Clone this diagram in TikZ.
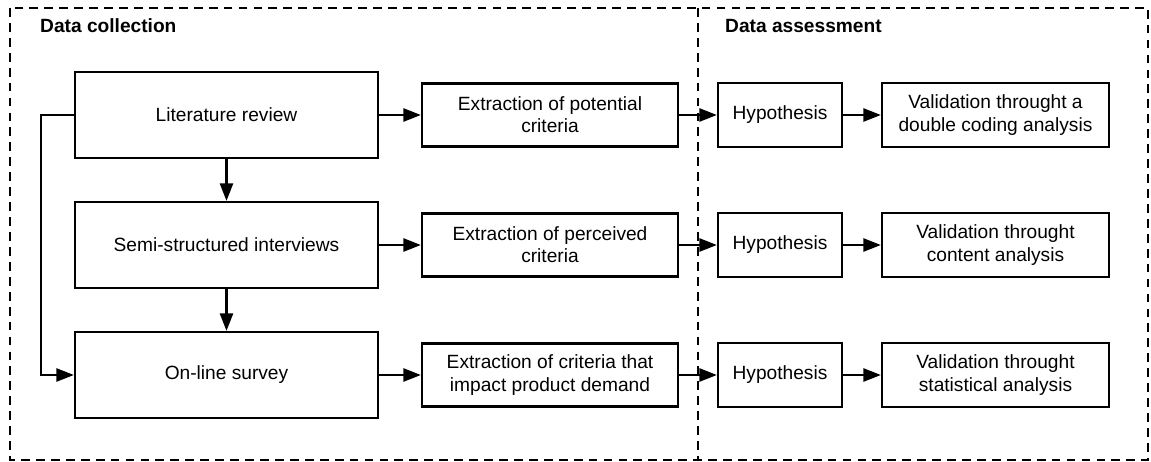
\documentclass[tikz,border=0pt]{standalone}
\usepackage{fontspec}
\setmainfont{Liberation Sans}
\usetikzlibrary{arrows.meta}

\begin{document}
\begin{tikzpicture}[
    box/.style={draw,line width=1.3pt,align=center,inner sep=2pt,
        font=\fontsize{10.9}{12.6}\selectfont},
    arr/.style={line width=1.3pt,-{Triangle[length=10pt,width=7.5pt]}},
    frame/.style={line width=1.2pt,dash pattern=on 5pt off 3.5pt},
    title/.style={anchor=west,font=\fontsize{10.9}{12.6}\selectfont\bfseries}
]
\useasboundingbox (0,0) rectangle (23.02,-9.24);

% frame and the two parts
\draw[frame] (0.2,-0.16) rectangle (22.96,-9.2);
\draw[frame] (13.96,-0.16)--(13.96,-9.2);
\node[title] (lcoll) at (0.68,-0.52) {Data collection};
\node[title] (lassess) at (14.38,-0.52) {Data assessment};

% data collection
\node[box,minimum width=6.06cm,minimum height=1.72cm] (lit) at (4.53,-2.30) {Literature review};
\node[box,minimum width=6.06cm,minimum height=1.72cm] (semi) at (4.53,-4.90) {Semi-structured interviews};
\node[box,minimum width=6.06cm,minimum height=1.72cm] (survey) at (4.53,-7.50) {On-line survey};

\node[box,minimum width=5.12cm,minimum height=1.26cm] (extlit) at (11.0,-2.30) {Extraction of potential\\criteria};
\node[box,minimum width=5.12cm,minimum height=1.26cm] (extsemi) at (11.0,-4.90) {Extraction of perceived\\criteria};
\node[box,minimum width=5.12cm,minimum height=1.26cm] (extsurv) at (11.0,-7.50) {Extraction of criteria that\\impact product demand};

% data assessment
\node[box,minimum width=2.48cm,minimum height=1.28cm] (hyplit) at (15.6,-2.30) {Hypothesis};
\node[box,minimum width=2.48cm,minimum height=1.28cm] (hypsemi) at (15.6,-4.90) {Hypothesis};
\node[box,minimum width=2.48cm,minimum height=1.28cm] (hypsurv) at (15.6,-7.50) {Hypothesis};

\node[box,minimum width=4.54cm,minimum height=1.28cm] (vallit) at (19.91,-2.30) {Validation throught a\\double coding analysis};
\node[box,minimum width=4.54cm,minimum height=1.28cm] (valsemi) at (19.91,-4.90) {Validation throught\\content analysis};
\node[box,minimum width=4.54cm,minimum height=1.28cm] (valsurv) at (19.91,-7.50) {Validation throught\\statistical analysis};

% arrows
\draw[arr] (lit)--(semi);
\draw[arr] (semi)--(survey);
\draw[arr] (lit.west)--++(-0.66,0) |- (survey.west);
\draw[arr] (lit)--(extlit);
\draw[arr] (semi)--(extsemi);
\draw[arr] (survey)--(extsurv);
\draw[arr] (extlit)--(hyplit);
\draw[arr] (extsemi)--(hypsemi);
\draw[arr] (extsurv)--(hypsurv);
\draw[arr] (hyplit)--(vallit);
\draw[arr] (hypsemi)--(valsemi);
\draw[arr] (hypsurv)--(valsurv);
\end{tikzpicture}
\end{document}
